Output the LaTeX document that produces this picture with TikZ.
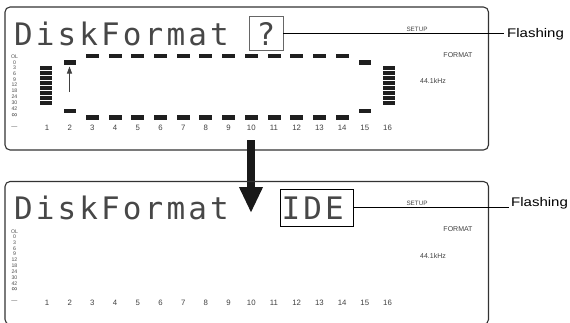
\documentclass[tikz,border=0pt]{standalone}
\usepackage{fontspec}
\usepackage{graphicx}
\setmainfont{Liberation Sans}
\newfontfamily\lcdfam{DejaVu Sans Mono}[LetterSpace=10]
\newfontfamily\lcdone{DejaVu Sans Mono}
\usetikzlibrary{arrows.meta}
\tikzset{
 panel/.style={draw=black!80, line width=1.1pt, rounded corners=5pt},
 lcd/.style={font=\lcdfam\fontsize{31}{31}\selectfont, text=black!72, inner sep=0pt},
 lcdq/.style={font=\lcdone\fontsize{31}{31}\selectfont, text=black!72, inner sep=0pt},
 lvl/.style={font=\fontsize{5.2}{5.2}\selectfont, text=black!70, inner sep=0pt},
 num/.style={font=\fontsize{7.8}{8}\selectfont, text=black!75, inner sep=0pt},
 ind/.style={font=\fontsize{6.3}{7}\selectfont, text=black!75, inner sep=0pt},
 seg/.style={fill=black!88},
 callout/.style={draw=black, line width=0.8pt},
 flash/.style={font=\fontsize{12.5}{13}\selectfont, inner sep=0pt},
 bigarrow/.style={draw=black!90, line width=8pt, -{Triangle[width=22pt,length=26pt]}},
 smallarrow/.style={draw=black!75, line width=0.8pt, -{Triangle[width=5pt,length=7pt]}},
}
\newcommand\lcdpanel[1]{%
  \draw[panel] (5,7) rectangle (488.5,150);
  \node[lcd, anchor=base west] (#1title) at (14,45) {DiskFormat};
  \foreach \t/\yy [count=\i] in {OL/57, 0/62.5, 3/68, 6/74, 9/79.5, 12/85, 18/91, 24/97, 30/103, 42/109}
    \node[lvl] (#1lv\i) at (14.5,\yy) {\t};
  \node[lvl, font=\fontsize{8}{8}\selectfont] (#1lvinf) at (14.5,115.5) {∞};
  \node[lvl, font=\fontsize{6}{6}\selectfont] (#1lvdash) at (14.5,127.5) {—};
  \foreach \c in {1,...,16}
    \node[num] (#1n\c) at ({47+(\c-1)*22.7},128) {\c};
  \node[ind] (#1setup) at (417,29) {SETUP};
  \node[ind, font=\fontsize{7}{7}\selectfont] (#1format) at (458,55) {FORMAT};
  \node[ind, font=\fontsize{7}{7}\selectfont] (#1khz) at (433,81) {44.1kHz};
}
\begin{document}
\begin{tikzpicture}[x=1pt,y=-1pt]
\useasboundingbox (0,0) rectangle (570,322);
% upper display
\lcdpanel{a}
\foreach \k in {0,...,7} {
  \fill[seg] (40,{66+5*\k}) rectangle +(12,4);
  \fill[seg] (383,{66+5*\k}) rectangle +(12,4);
}
\foreach \c in {3,...,14} {
  \fill[seg] ({47+(\c-1)*22.7-6.5},53.5) rectangle +(13,4.5);
  \fill[seg] ({47+(\c-1)*22.7-6.5},115) rectangle +(13,4.5);
}
\foreach \c in {2,15} {
  \fill[seg] ({47+(\c-1)*22.7-6},60) rectangle +(12,4.5);
  \fill[seg] ({47+(\c-1)*22.7-6},108.5) rectangle +(12,4.5);
}
\coordinate (upS) at (69.5,92);
\coordinate (upE) at (69.5,66.5);
\draw[smallarrow] (upS) -- (upE);
\node[draw=black!60, line width=0.8pt, minimum width=34pt, minimum height=34pt, inner sep=0pt] (qbox) at (266,33) {};
\node[lcdq, anchor=base] (q) at (266,45) {?};
\node[flash, anchor=base west] (flash1) at (507,37.5) {\scalebox{1.2}[1]{Flashing}};
\draw[callout] (qbox.east) -- ([xshift=-3pt]qbox.east -| flash1.west);
% arrow
\coordinate (arrS) at (251,140);
\coordinate (arrE) at (251,213);
\draw[bigarrow] (arrS) -- (arrE);
% lower display
\begin{scope}[shift={(0,174.5)}]
\lcdpanel{b}
\end{scope}
\node[draw=black, line width=0.8pt, minimum width=73pt, minimum height=37pt, inner sep=0pt] (idebox) at (316.5,207.5) {};
\node[lcd, anchor=base west] (ide) at (281.5,219.5) {IDE};
\node[flash, anchor=base west] (flash2) at (511,206) {\scalebox{1.2}[1]{Flashing}};
\draw[callout] (idebox.east) -- ([xshift=-2pt]idebox.east -| flash2.west);
\end{tikzpicture}
\end{document}
